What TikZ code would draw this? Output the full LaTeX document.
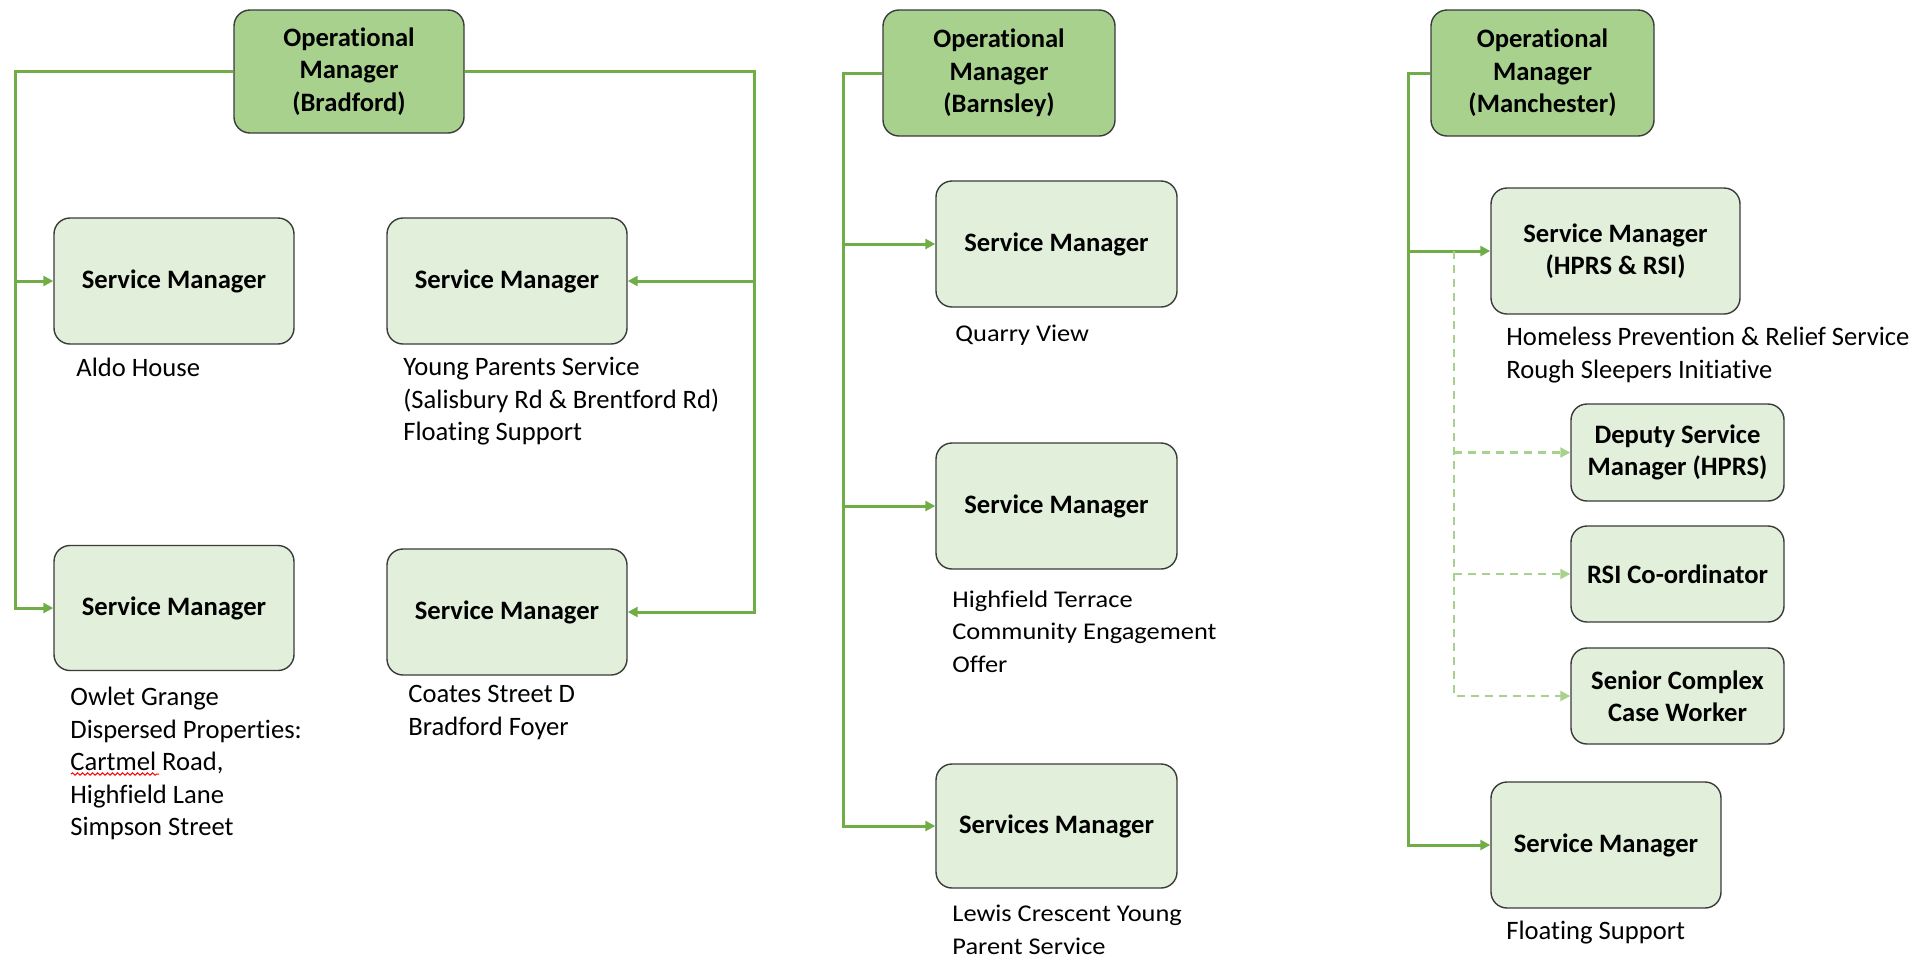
\documentclass[tikz,border=0pt]{standalone}
\usepackage{fontspec}
\setmainfont{Carlito}[Ligatures=NoCommon]
\newfontfamily\widefont{Carlito}[Ligatures=NoCommon, FakeStretch=1.1]
\usetikzlibrary{arrows.meta,decorations.pathmorphing}

\definecolor{linegreen}{HTML}{70AD47}
\definecolor{dashgreen}{HTML}{A9D18E}
\definecolor{omfill}{HTML}{A9D18E}
\definecolor{smfill}{HTML}{E2EFDA}
\definecolor{boxline}{HTML}{3A3A3A}

\tikzset{
  mgrbox/.style={draw=boxline, line width=0.7pt, rounded corners=8pt, align=center, inner sep=2pt},
  opmgr/.style={mgrbox, fill=omfill},
  svcmgr/.style={mgrbox, fill=smfill},
  cal/.style={font=\fontsize{13.3}{16.2}\selectfont\bfseries},
  note/.style={anchor=north west, inner sep=0pt, align=left, font=\fontsize{13.3}{16.2}\selectfont},
  vnote/.style={note, font=\widefont\fontsize{12}{16.3}\selectfont},
  link/.style={draw=linegreen, line width=1.5pt, -{Triangle[length=5pt,width=5pt]}},
  dlink/.style={draw=dashgreen, line width=1.1pt, dash pattern=on 4pt off 3pt, -{Triangle[length=5pt,width=5pt]}}
}

\begin{document}
\begin{tikzpicture}[x=0.5pt,y=-0.5pt]
        \useasboundingbox (0,0) rectangle (1932,960);

        % Bradford
        \node[opmgr, cal, minimum width=115pt, minimum height=61.5pt] (bradom) at (349,71.5) {Operational\\Manager\\(Bradford)};
        \node[svcmgr, cal, minimum width=120pt, minimum height=63pt] (aldo) at (174,281) {Service Manager};
        \node[svcmgr, cal, minimum width=120pt, minimum height=63pt] (young) at (507,281) {Service Manager};
        \node[svcmgr, cal, minimum width=120pt, minimum height=62.5pt] (owlet) at (174,608) {Service Manager};
        \node[svcmgr, cal, minimum width=120pt, minimum height=63pt] (coates) at (507,612) {Service Manager};

        \node[note] (aldotxt) at (76,358) {Aldo House};
        \node[note] (youngtxt) at (403,357) {Young Parents Service\\(Salisbury Rd \& Brentford Rd)\\Floating Support};
        \node[note] (owlettxt) at (70,687) {Owlet Grange\\Dispersed Properties:\\Cartmel Road,\\Highfield Lane\\Simpson Street};
        \node[note] (coatestxt) at (408,685) {Coates Street D\\Bradford Foyer};
        \draw[red, line width=0.5pt, decorate, decoration={snake, amplitude=0.6pt, segment length=2.5pt}] (71,774) -- (159,774);

        \coordinate (bradl) at (15,0);
        \coordinate (bradr) at (754,0);
        \draw[link] (bradom.west) -| (bradl |- owlet.west) -- (owlet.west);
        \draw[link] (bradl |- aldo.west) -- (aldo.west);
        \draw[link] (bradom.east) -| (bradr |- coates.east) -- (coates.east);
        \draw[link] (bradr |- young.east) -- (young.east);

        % Barnsley
        \node[opmgr, cal, minimum width=116pt, minimum height=63pt] (barnom) at (999,73) {Operational\\Manager\\(Barnsley)};
        \node[svcmgr, cal, minimum width=120.5pt, minimum height=63pt] (quarry) at (1056.5,244) {Service Manager};
        \node[svcmgr, cal, minimum width=120.5pt, minimum height=63pt] (highf) at (1056.5,506) {Service Manager};
        \node[svcmgr, cal, minimum width=120.5pt, minimum height=62pt] (lewis) at (1056.5,826) {Services Manager};

        \node[vnote] (quarrytxt) at (955,325) {Quarry View};
        \node[vnote] (highftxt) at (952,590) {Highfield Terrace\\Community Engagement\\Offer};
        \node[vnote] (lewistxt) at (952,905) {Lewis Crescent Young\\Parent Service};

        \coordinate (barnl) at (843,0);
        \draw[link] (barnom.west) -| (barnl |- lewis.west) -- (lewis.west);
        \draw[link] (barnl |- quarry.west) -- (quarry.west);
        \draw[link] (barnl |- highf.west) -- (highf.west);

        % Manchester
        \node[opmgr, cal, minimum width=111.5pt, minimum height=63pt] (manom) at (1542.5,73) {Operational\\Manager\\(Manchester)};
        \node[svcmgr, cal, minimum width=124.5pt, minimum height=63pt] (hprs) at (1615.5,251) {Service Manager\\(HPRS \& RSI)};
        \node[svcmgr, cal, minimum width=106.5pt, minimum height=48.5pt] (deputy) at (1677.5,452.5) {Deputy Service\\Manager (HPRS)};
        \node[svcmgr, cal, minimum width=106.5pt, minimum height=48pt] (rsi) at (1677.5,574) {RSI Co-ordinator};
        \node[svcmgr, cal, minimum width=106.5pt, minimum height=48pt] (senior) at (1677.5,696) {Senior Complex\\Case Worker};
        \node[svcmgr, cal, minimum width=115pt, minimum height=63pt] (floatsm) at (1606,845) {Service Manager};

        \node[note] (hprstxt) at (1506,327) {Homeless Prevention \& Relief Service\\Rough Sleepers Initiative};
        \node[note] (floattxt) at (1506,921) {Floating Support};

        \coordinate (manl) at (1408,0);
        \coordinate (mand) at (1454,0);
        \draw[link] (manom.west) -| (manl |- floatsm.west) -- (floatsm.west);
        \draw[link] (manl |- hprs.west) -- (hprs.west);
        \draw[dlink] (mand |- hprs.west) |- (senior.west);
        \draw[dlink] (mand |- deputy.west) -- (deputy.west);
        \draw[dlink] (mand |- rsi.west) -- (rsi.west);
      \end{tikzpicture}
\end{document}
